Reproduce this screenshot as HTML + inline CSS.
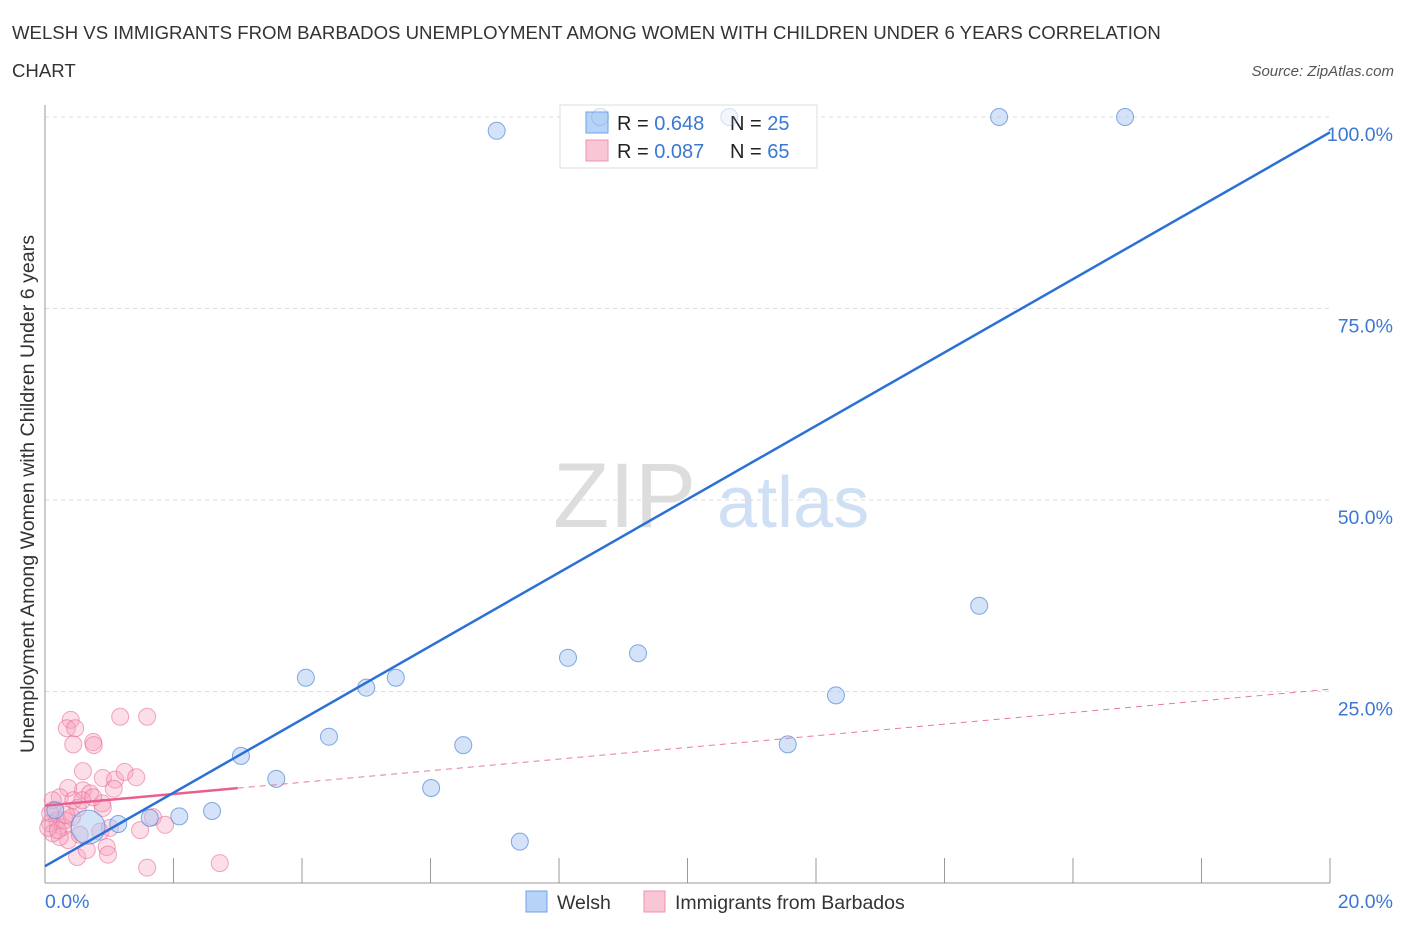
<!DOCTYPE html>
<html><head><meta charset="utf-8"><style>
body{margin:0;background:#fff;font-family:"Liberation Sans",sans-serif;}
svg text{font-family:"Liberation Sans",sans-serif;}
</style></head><body>
<svg id="chart" width="1406" height="930" xmlns="http://www.w3.org/2000/svg">
<text x="12" y="39" font-size="18.6" fill="#333">WELSH VS IMMIGRANTS FROM BARBADOS UNEMPLOYMENT AMONG WOMEN WITH CHILDREN UNDER 6 YEARS CORRELATION</text>
<text x="12" y="77" font-size="18.6" fill="#333">CHART</text>
<text x="1394" y="76" font-size="15" fill="#555" font-style="italic" text-anchor="end">Source: ZipAtlas.com</text>
<text transform="translate(34,494) rotate(-90)" font-size="19.6" fill="#333" text-anchor="middle">Unemployment Among Women with Children Under 6 years</text>
<text x="553" y="527" font-size="92" fill="#ddd" font-family="Liberation Serif, serif">ZIP</text>
<text x="717" y="527" font-size="72" fill="#cfe0f4">atlas</text>
<g id="grid"></g><g id="axes"></g>
<g>
<rect x="560" y="105" width="257" height="63" fill="rgba(255,255,255,0.8)" stroke="#ddd"/>
<rect x="586" y="112" width="22" height="21" fill="#b7d3f7" stroke="#6fa1e8"/>
<rect x="586" y="140" width="22" height="21" fill="#f9c6d5" stroke="#ef91ad"/>
<text x="617" y="130" font-size="20" fill="#222">R = <tspan fill="#3b78d4">0.648</tspan></text>
<text x="730" y="130" font-size="20" fill="#222">N = <tspan fill="#3b78d4">25</tspan></text>
<text x="617" y="158" font-size="20" fill="#222">R = <tspan fill="#3b78d4">0.087</tspan></text>
<text x="730" y="158" font-size="20" fill="#222">N = <tspan fill="#3b78d4">65</tspan></text>
</g>
<g id="marks"></g>
<g>
<rect x="526" y="891" width="21" height="21" fill="#b7d3f7" stroke="#6fa1e8"/>
<text x="557" y="909" font-size="19.5" fill="#333">Welsh</text>
<rect x="644" y="891" width="21" height="21" fill="#f9c6d5" stroke="#ef91ad"/>
<text x="675" y="909" font-size="19.5" fill="#333">Immigrants from Barbados</text>
</g>
</svg>
<script>
const welshX=[7.03,8.64,10.65,14.85,16.81,14.54,9.23,8.14,12.31,11.56,4.06,5.00,5.46,4.42,6.51,3.05,3.60,6.01,2.60,2.09,1.14,1.63,0.67,7.39,0.16];
const welshY=[98.2,100,100,100,100,36.2,30.0,29.4,24.5,18.1,26.8,25.5,26.8,19.1,18.0,16.6,13.6,12.4,9.4,8.7,7.7,8.5,7.3,5.4,9.5];
const pinkX=[0.40,0.34,0.47,1.17,1.59,0.44,0.75,0.76,0.59,0.90,1.09,1.24,1.42,1.07,0.59,0.36,0.23,0.12,0.89,0.90,0.44,0.70,0.12,0.19,0.08,0.28,0.42,0.86,1.01,0.96,0.98,0.50,0.65,0.36,0.23,0.12,1.48,1.68,1.87,1.59,2.72,0.08,0.31,0.51,0.58,0.75,0.05,0.20,0.33,0.54];
const pinkY=[21.3,20.2,20.2,21.7,21.7,18.1,18.4,18.0,14.6,13.7,13.5,14.5,13.8,12.3,12.1,12.4,11.2,10.8,10.4,9.8,10.8,11.7,9.5,8.2,7.8,7.3,8.6,6.7,7.2,4.7,3.7,3.4,4.3,5.6,6.0,6.5,6.9,8.6,7.6,2.0,2.6,9.1,8.2,9.8,10.8,11.2,7.2,6.9,8.9,6.3];
const welshTrend=[2.2,98.0];   // y at x=0, x=20
const pinkTrend=[10.1,25.3];   // y at x=0, x=20
const yTicks=[25,50,75,100];
const yTickLabels=["25.0%","50.0%","75.0%","100.0%"];
const xTicks=[0,2,4,6,8,10,12,14,16,18,20];
const NS="http://www.w3.org/2000/svg";
const sx=v=>45+v/20*1285, sy=v=>883-v/100*766;
function mk(tag,attrs,parent){const e=document.createElementNS(NS,tag);for(const k in attrs)e.setAttribute(k,attrs[k]);document.getElementById(parent).appendChild(e);return e;}
yTicks.forEach((t,i)=>{
 const g=mk('line',{x1:45,x2:1330,y1:sy(t),y2:sy(t),stroke:'#ddd','stroke-dasharray':'4,4'},'grid');
 
 
 const l=mk('text',{x:1393,y:sy(t)+24,'font-size':19.5,fill:'#3b78d4','text-anchor':'end'},'grid');
 l.textContent=yTickLabels[i];
 
 
});
const ax=mk('line',{x1:45,x2:45,y1:105,y2:883,stroke:'#999'},'axes');


const bx=mk('line',{x1:45,x2:1330,y1:883,y2:883,stroke:'#999'},'axes');


xTicks.forEach(t=>{const e=mk('line',{x1:sx(t),x2:sx(t),y1:858,y2:883,stroke:'#999'},'axes');
 
 });
const x0=mk('text',{x:45,y:908,'font-size':19.5,fill:'#3b78d4'},'axes');x0.textContent='0.0%';


const x1=mk('text',{x:1393,y:908,'font-size':19.5,fill:'#3b78d4','text-anchor':'end'},'axes');x1.textContent='20.0%';


pinkX.forEach((x,i)=>{const c=mk('circle',{cx:sx(x),cy:sy(pinkY[i]),r:8.5,fill:'rgba(246,160,188,0.35)',stroke:'rgba(232,110,150,0.6)'},'marks');
 
 });
welshX.forEach((x,i)=>{const inLegend=welshY[i]>=99.5&&x>7.5&&x<12;
 const c=mk('circle',{cx:sx(x),cy:sy(welshY[i]),r:i==22?17:8.5,fill:inLegend?'rgba(170,200,242,0.15)':'rgba(170,200,242,0.5)',stroke:inLegend?'rgba(80,135,215,0.25)':'rgba(80,135,215,0.7)'},'marks');
 
 });
const pyAt=x=>pinkTrend[0]+(pinkTrend[1]-pinkTrend[0])*x/20;
const pd=mk('line',{x1:sx(3),y1:sy(pyAt(3)),x2:sx(20),y2:sy(pyAt(20)),stroke:'#e87aa0','stroke-dasharray':'6,5','stroke-width':1},'marks');


const ps=mk('line',{x1:sx(0),y1:sy(pyAt(0)),x2:sx(3),y2:sy(pyAt(3)),stroke:'#e8608f','stroke-width':2.5},'marks');


const wl=mk('line',{x1:sx(0),y1:sy(welshTrend[0]),x2:sx(20),y2:sy(welshTrend[1]),stroke:'#2b70d6','stroke-width':2.5},'marks');


</script>
</body></html>
